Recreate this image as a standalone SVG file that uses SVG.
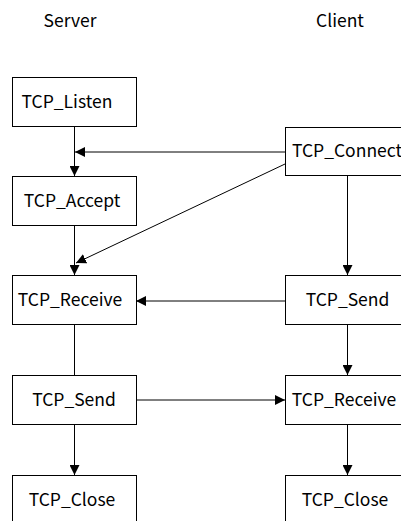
<svg xmlns="http://www.w3.org/2000/svg" width="401" height="521" viewBox="0 0 401 521">
<style>
text{font-family:"Noto Sans CJK SC","Noto Sans",sans-serif;font-size:17.5px;fill:#000;text-anchor:middle}
.box{fill:#fff;stroke:#000;stroke-width:1}
.ln{stroke:#000;stroke-width:1;fill:none}
.ar{stroke:#000;stroke-width:1;fill:none;marker-end:url(#ah)}
</style>
<defs>
<marker id="ah" viewBox="0 0 10 10" refX="10" refY="5" markerWidth="10" markerHeight="10" markerUnits="userSpaceOnUse" orient="auto">
<path d="M0,0 L10,5 L0,10 Z" fill="#000"/>
</marker>
</defs>
<g id="lbl-server"><text x="70" y="27">Server</text></g>
<g id="lbl-client"><text x="340" y="27">Client</text></g>
<g id="connectors">
<line class="ar" x1="74.5" y1="126" x2="74.5" y2="176"/>
<line class="ar" x1="285" y1="152" x2="75" y2="152"/>
<line class="ar" x1="285" y1="164" x2="76" y2="263"/>
<line class="ar" x1="74.5" y1="226" x2="74.5" y2="275"/>
<line class="ln" x1="74.5" y1="325" x2="74.5" y2="375"/>
<line class="ar" x1="285" y1="301" x2="136" y2="301"/>
<line class="ar" x1="136" y1="400" x2="285" y2="400"/>
<line class="ar" x1="74.5" y1="425" x2="74.5" y2="475"/>
<line class="ar" x1="347.5" y1="176" x2="347.5" y2="275"/>
<line class="ar" x1="347.5" y1="325" x2="347.5" y2="375"/>
<line class="ar" x1="347.5" y1="425" x2="347.5" y2="475"/>
</g>
<g id="s-listen"><rect class="box" x="12.5" y="77.5" width="124" height="49"/><text x="67" y="108">TCP_Listen</text></g>
<g id="s-accept"><rect class="box" x="12.5" y="176.5" width="124" height="49"/><text x="72" y="207">TCP_Accept</text></g>
<g id="s-receive"><rect class="box" x="12.5" y="275.5" width="124" height="49"/><text x="70" y="306">TCP_Receive</text></g>
<g id="s-send"><rect class="box" x="12.5" y="375.5" width="124" height="49"/><text x="74" y="406">TCP_Send</text></g>
<g id="s-close"><rect class="box" x="12.5" y="475.5" width="124" height="49"/><text x="72" y="506">TCP_Close</text></g>
<g id="c-connect"><rect class="box" x="285.5" y="127.5" width="124" height="48"/><text x="347" y="157">TCP_Connect</text></g>
<g id="c-send"><rect class="box" x="285.5" y="275.5" width="124" height="49"/><text x="347.5" y="306">TCP_Send</text></g>
<g id="c-receive"><rect class="box" x="285.5" y="375.5" width="124" height="49"/><text x="344" y="406">TCP_Receive</text></g>
<g id="c-close"><rect class="box" x="285.5" y="475.5" width="124" height="49"/><text x="345" y="506">TCP_Close</text></g>
</svg>
